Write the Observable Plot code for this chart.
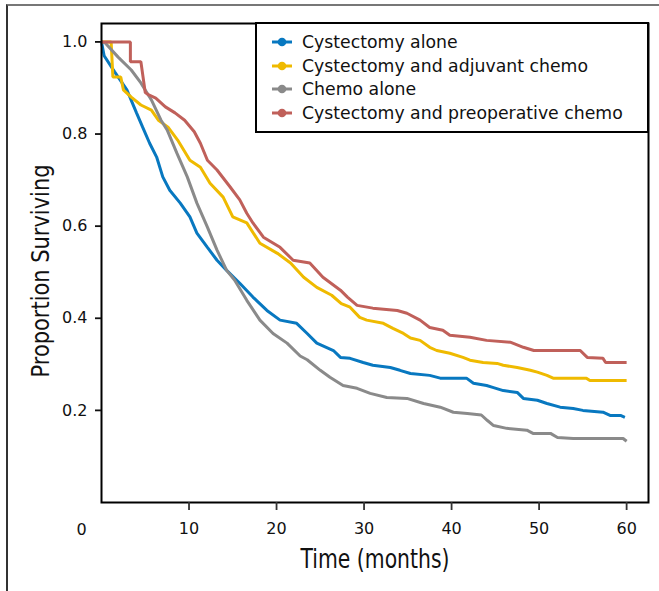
<!DOCTYPE html>
<html>
<head>
<meta charset="utf-8">
<script src="https://cdn.jsdelivr.net/npm/d3@7"></script>
<script src="https://cdn.jsdelivr.net/npm/@observablehq/plot@0.6"></script>
<style>
  html, body { margin: 0; padding: 0; background: #fff; }
  #wrap { position: relative; width: 659px; height: 591px; overflow: hidden; font-family: "DejaVu Sans", sans-serif; color: #111; }
  #border { position: absolute; left: 6px; top: 4px; right: -10px; bottom: -10px; border-top: 2px solid #777; border-left: 2px solid #333; pointer-events: none; }
  #legend { position: absolute; left: 255px; top: 22px; width: 394px; height: 111px; box-sizing: border-box; border: 2px solid #000; background: #fff; }
  .item { position: absolute; left: 15px; height: 20px; display: flex; align-items: center; font-size: 17.3px; white-space: nowrap; color: #111; }
  .item svg { margin-right: 10px; }
</style>
</head>
<body>
<div id="wrap">
  <div id="chart"></div>
  <div id="legend"></div>
  <div id="border"></div>
</div>
<script>
// ---- data (months, proportion surviving) ----
const seriesNames = ["Cystectomy alone", "Cystectomy and adjuvant chemo", "Chemo alone", "Cystectomy and preoperative chemo"];
const seriesColors = ["#0878c0", "#efba00", "#8a8a8a", "#c0605a"];

const cystectomyAlone = [
  [0,1.0],[0.3,0.97],[1.5,0.935],[2.9,0.896],[4.0,0.846],[4.7,0.815],[5.5,0.78],[6.3,0.75],[7.0,0.707],
  [7.8,0.678],[9.0,0.65],[10.1,0.62],[10.9,0.585],[12.1,0.554],[13.2,0.526],[14.3,0.504],[15.8,0.476],
  [17.3,0.446],[18.9,0.417],[20.4,0.396],[22.3,0.389],[23.5,0.367],[24.6,0.346],[26.5,0.33],[27.3,0.315],
  [28.4,0.313],[29.9,0.304],[31.0,0.298],[33.0,0.293],[34.1,0.287],[35.3,0.28],[37.5,0.276],[38.7,0.27],
  [41.7,0.27],[42.5,0.259],[44.0,0.254],[44.7,0.25],[45.9,0.243],[47.5,0.239],[48.2,0.226],[49.8,0.222],
  [50.9,0.215],[52.4,0.207],[53.9,0.204],[55.0,0.2],[57.3,0.196],[58.1,0.189],[59.3,0.189],[59.8,0.185]
];
const cystectomyAdjuvant = [
  [0,1.0],[1.1,1.0],[1.3,0.924],[2.2,0.924],[2.5,0.896],[3.4,0.88],[4.5,0.863],[5.7,0.852],[6.5,0.83],
  [7.6,0.815],[8.7,0.787],[10.1,0.743],[11.3,0.728],[12.4,0.693],[13.9,0.663],[15.0,0.62],[16.6,0.607],
  [18.1,0.563],[20.1,0.541],[21.6,0.52],[23.1,0.489],[24.6,0.467],[26.3,0.45],[27.4,0.432],[28.4,0.424],
  [29.5,0.402],[30.3,0.396],[32.2,0.389],[33.3,0.378],[34.5,0.367],[35.3,0.357],[36.4,0.352],[37.5,0.337],
  [38.3,0.33],[39.8,0.324],[41.3,0.315],[42.1,0.309],[43.6,0.304],[45.2,0.302],[45.9,0.298],[47.5,0.293],
  [49.0,0.287],[49.8,0.283],[50.9,0.276],[51.6,0.27],[55.4,0.27],[55.8,0.265],[60.0,0.265]
];
const chemoAlone = [
  [0,1.0],[0.4,0.998],[1.9,0.967],[3.4,0.939],[4.5,0.911],[5.7,0.874],[6.8,0.83],[7.5,0.809],[8.6,0.759],
  [9.8,0.707],[10.9,0.65],[12.1,0.598],[13.2,0.548],[14.3,0.504],[15.2,0.483],[16.6,0.439],[18.1,0.396],
  [19.6,0.367],[21.2,0.346],[22.7,0.318],[23.5,0.31],[25.0,0.287],[26.1,0.272],[27.6,0.254],[29.2,0.248],
  [30.7,0.237],[32.6,0.228],[34.9,0.226],[36.8,0.215],[38.7,0.207],[40.2,0.196],[41.8,0.193],[43.4,0.19],
  [44.1,0.178],[44.8,0.167],[46.3,0.161],[48.6,0.157],[49.3,0.15],[51.3,0.15],[52.1,0.141],[53.9,0.139],
  [59.6,0.139],[60.0,0.133]
];
const cystectomyPreop = [
  [0,1.0],[3.3,1.0],[3.3,0.957],[4.5,0.957],[5.0,0.89],[5.4,0.885],[6.2,0.878],[7.3,0.859],[8.4,0.846],
  [9.5,0.83],[10.6,0.805],[11.3,0.78],[12.1,0.743],[13.2,0.722],[14.7,0.685],[15.8,0.657],[16.6,0.628],
  [17.3,0.607],[18.5,0.576],[20.4,0.554],[21.9,0.526],[23.8,0.52],[25.3,0.489],[27.3,0.461],[28.1,0.446],
  [29.2,0.428],[31.0,0.422],[33.8,0.417],[34.9,0.411],[36.4,0.396],[37.5,0.38],[39.0,0.374],[39.8,0.363],
  [42.1,0.359],[44.0,0.352],[46.7,0.348],[48.2,0.337],[49.4,0.33],[54.7,0.33],[55.5,0.315],[57.3,0.313],
  [57.6,0.304],[60.0,0.304]
];

const xTicks = [10, 20, 30, 40, 50, 60];
const xZeroLabel = [0];
const yTicks = [0.2, 0.4, 0.6, 0.8, 1.0];
const xTitle = "Time (months)";
const yTitle = "Proportion Surviving";

// ---- build table ----
const allSeries = [cystectomyAlone, cystectomyAdjuvant, chemoAlone, cystectomyPreop];
const rows = allSeries.flatMap((arr, i) => arr.map(([t, s]) => ({series: seriesNames[i], t, s})));

const chart = Plot.plot({
  width: 659,
  height: 591,
  marginLeft: 101,
  marginRight: 11,
  marginTop: 23,
  marginBottom: 89,
  style: {fontFamily: "DejaVu Sans, sans-serif", fontSize: "16px", color: "#111", background: "#fff"},
  x: {domain: [0, 62.5]},
  y: {domain: [0, 1.04]},
  color: {domain: seriesNames, range: seriesColors},
  marks: [
    Plot.line(rows, {x: "t", y: "s", z: "series", stroke: "series", strokeWidth: 3, strokeLinejoin: "miter", strokeLinecap: "butt"}),
    Plot.frame({stroke: "#000", strokeWidth: 2}),
    Plot.axisY({ticks: yTicks, tickFormat: d3.format(".1f"), tickSize: 6, tickPadding: 8, label: null, fontSize: 16, strokeWidth: 1.8}),
    Plot.axisX({ticks: xTicks, tickSize: 8, tickPadding: 12, label: null, fontSize: 16, strokeWidth: 1.8, stroke: "#333"}),
    Plot.text(xZeroLabel, {x: d => d, text: d => String(d), frameAnchor: "bottom", lineAnchor: "middle", textAnchor: "middle", dx: -20, dy: 27, fontSize: 16}),
    Plot.text([xTitle], {text: d => d, frameAnchor: "bottom", lineAnchor: "middle", textAnchor: "middle", dy: 57, fontSize: 26}),
    Plot.text([yTitle], {text: d => d, frameAnchor: "left", lineAnchor: "middle", textAnchor: "middle", rotate: -90, dx: -61, dy: 8, fontSize: 25})
  ]
});
document.getElementById("chart").appendChild(chart);

// condensed look of the axis titles
d3.select(chart).selectAll("text").filter(function() { return this.textContent === xTitle; })
  .attr("textLength", 149).attr("lengthAdjust", "spacingAndGlyphs");
d3.select(chart).selectAll("text").filter(function() { return this.textContent === yTitle; })
  .attr("textLength", 213).attr("lengthAdjust", "spacingAndGlyphs");

// ---- legend ----
const legend = document.getElementById("legend");
seriesNames.forEach((name, i) => {
  const item = document.createElement("div");
  item.className = "item";
  item.style.top = (8 + i * 23.7) + "px";
  item.innerHTML = `<svg width="20" height="10"><line x1="0" y1="5" x2="20" y2="5" stroke="${seriesColors[i]}" stroke-width="3"/><circle cx="10" cy="5" r="4.3" fill="${seriesColors[i]}"/></svg><span>${name}</span>`;
  legend.appendChild(item);
});
</script>
</body>
</html>
